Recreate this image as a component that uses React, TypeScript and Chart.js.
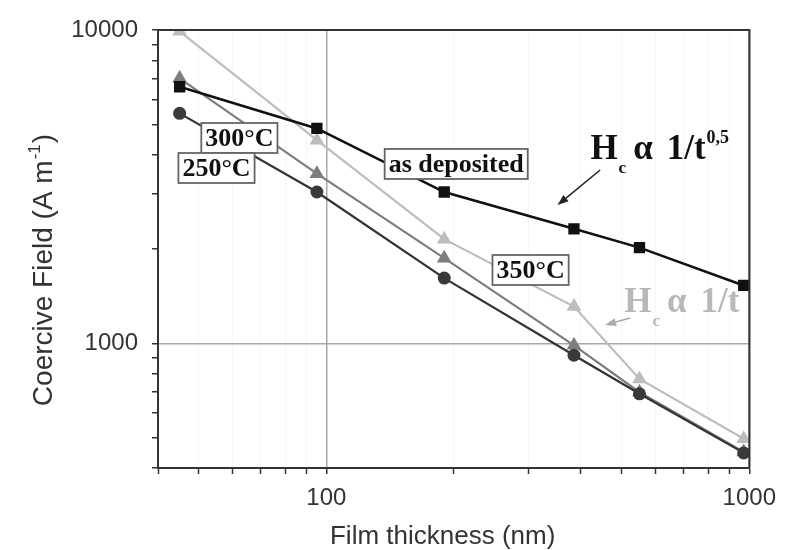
import React, { useEffect, useRef } from "react";
import { Chart, registerables } from "chart.js";

Chart.register(...registerables);

// ---- data ----
const thickness = [45, 95, 190, 385, 550, 970];
const asDeposited = [6590, 4850, 3040, 2320, 2020, 1530];
const t350 = [9900, 4450, 2150, 1310, 770, 496];
const t300 = [7010, 3480, 1870, 985, 698, 450];
const t250 = [5420, 3040, 1615, 916, 690, 447];

const xTicks = [40, 50, 60, 70, 80, 90, 100, 200, 300, 400, 500, 600, 700, 800, 900, 1000];
const yTicks = [400, 500, 600, 700, 800, 900, 1000, 2000, 3000, 4000, 5000, 6000, 7000, 8000, 9000, 10000];
const xMajor = [100, 1000];
const yMajor = [1000, 10000];

// annotation anchors in data coordinates
const boxLabels = [
  { text: "300°C", x: 62.3, y: 4522 },
  { text: "250°C", x: 55.0, y: 3627 },
  { text: "as deposited", x: 202.8, y: 3736 },
  { text: "350°C", x: 304, y: 1714 },
];

const SERIF = '"Liberation Serif", "Times New Roman", serif';
const SANS = '"Liberation Sans", Arial, sans-serif';

function pts(ys: number[]) {
  return thickness.map((x, i) => ({ x, y: ys[i] }));
}

const annotPlugin = {
  id: "annot",
  afterDatasetsDraw(chart: any) {
    const ctx = chart.ctx as CanvasRenderingContext2D;
    const xs = chart.scales.x;
    const ys = chart.scales.y;
    const X = (v: number) => xs.getPixelForValue(v);
    const Y = (v: number) => ys.getPixelForValue(v);
    ctx.save();
    // label boxes
    ctx.font = `bold 26px ${SERIF}`;
    ctx.textAlign = "center";
    ctx.textBaseline = "middle";
    for (const b of boxLabels) {
      const cx = X(b.x);
      const cy = Y(b.y);
      const w = ctx.measureText(b.text).width + 8;
      const h = 30;
      ctx.fillStyle = "#fff";
      ctx.fillRect(cx - w / 2, cy - h / 2, w, h);
      ctx.lineWidth = 1.8;
      ctx.strokeStyle = "#666";
      ctx.strokeRect(cx - w / 2, cy - h / 2, w, h);
      ctx.fillStyle = "#111";
      ctx.fillText(b.text, cx, cy + 1);
    }

    const formula = (x: number, y: number, color: string, sup: string | null) => {
      ctx.fillStyle = color;
      ctx.textAlign = "left";
      ctx.textBaseline = "alphabetic";
      ctx.font = `bold 35px ${SERIF}`;
      ctx.fillText("H", x, y);
      let cx = x + ctx.measureText("H").width + 1;
      ctx.font = `bold 17px ${SERIF}`;
      ctx.fillText("c", cx, y + 14);
      cx += ctx.measureText("c").width + 7;
      ctx.font = `bold 35px ${SERIF}`;
      const parts = ["α", "1/t"];
      ctx.fillText(parts[0], cx, y);
      cx += ctx.measureText(parts[0]).width + 14;
      ctx.fillText(parts[1], cx, y);
      cx += ctx.measureText(parts[1]).width + 1;
      if (sup) {
        ctx.font = `bold 18px ${SERIF}`;
        ctx.fillText(sup, cx, y - 16);
      }
    };
    const arrow = (x1: number, y1: number, x2: number, y2: number, color: string, lw: number) => {
      ctx.strokeStyle = color;
      ctx.fillStyle = color;
      ctx.lineWidth = lw;
      const ang = Math.atan2(y2 - y1, x2 - x1);
      const hl = 11;
      const hw = 4;
      const bx = x2 - Math.cos(ang) * hl;
      const by = y2 - Math.sin(ang) * hl;
      ctx.beginPath();
      ctx.moveTo(x1, y1);
      ctx.lineTo(bx, by);
      ctx.stroke();
      ctx.beginPath();
      ctx.moveTo(x2, y2);
      ctx.lineTo(bx + Math.sin(ang) * hw, by - Math.cos(ang) * hw);
      ctx.lineTo(bx - Math.sin(ang) * hw, by + Math.cos(ang) * hw);
      ctx.closePath();
      ctx.fill();
    };

    formula(X(421), Y(3876), "#111", "0,5");
    arrow(X(444), Y(3573), X(352), Y(2763), "#222", 1.5);
    formula(X(506), Y(1259), "#b8b8b8", null);
    arrow(X(523), Y(1204), X(456), Y(1144), "#aaa", 1.5);

    // frame
    const a = chart.chartArea;
    ctx.strokeStyle = "#333";
    ctx.lineWidth = 2;
    ctx.strokeRect(a.left, a.top, a.right - a.left, a.bottom - a.top);
    ctx.restore();
  },
  afterDraw(chart: any) {
    const ctx = chart.ctx as CanvasRenderingContext2D;
    const a = chart.chartArea;
    ctx.save();
    ctx.fillStyle = "#333";
    // x title
    ctx.font = `26px ${SANS}`;
    ctx.textAlign = "center";
    ctx.textBaseline = "alphabetic";
    ctx.fillText("Film thickness (nm)", (a.left + a.right) / 2 - 11, 544);
    // y title with superscript
    ctx.translate(52, 270);
    ctx.rotate(-Math.PI / 2);
    ctx.font = `28px ${SANS}`;
    const main = "Coercive Field (A m";
    const sup = "-1";
    const close = ")";
    const wm = ctx.measureText(main).width;
    ctx.font = `17px ${SANS}`;
    const ws = ctx.measureText(sup).width;
    ctx.font = `28px ${SANS}`;
    const wc = ctx.measureText(close).width;
    const total = wm + ws + wc + 2;
    let sx = -total / 2;
    ctx.textAlign = "left";
    ctx.fillText(main, sx, 0);
    sx += wm + 1;
    ctx.font = `17px ${SANS}`;
    ctx.fillText(sup, sx, -12);
    sx += ws + 1;
    ctx.font = `28px ${SANS}`;
    ctx.fillText(close, sx, 0);
    ctx.restore();
  },
};

export default function App() {
  const ref = useRef<HTMLCanvasElement | null>(null);
  useEffect(() => {
    document.body.style.margin = "0";
    const canvas = ref.current!;
    const chart = new Chart(canvas, {
      type: "line",
      data: {
        datasets: [
          {
            label: "as deposited",
            data: pts(asDeposited),
            borderColor: "#111",
            backgroundColor: "#111",
            borderWidth: 2.5,
            pointStyle: "rect",
            pointRadius: 8,
            pointBorderWidth: 0,
          },
          {
            label: "250°C",
            data: pts(t250),
            borderColor: "#333",
            backgroundColor: "#3a3a3a",
            borderWidth: 2.2,
            pointStyle: "circle",
            pointRadius: 6.5,
            pointBorderWidth: 0,
          },
          {
            label: "300°C",
            data: pts(t300),
            borderColor: "#7d7d7d",
            backgroundColor: "#7d7d7d",
            borderWidth: 2.2,
            pointStyle: "triangle",
            pointRadius: 8.5,
            pointBorderWidth: 0,
          },
          {
            label: "350°C",
            data: pts(t350),
            borderColor: "#bdbdbd",
            backgroundColor: "#bdbdbd",
            borderWidth: 2.2,
            pointStyle: "triangle",
            pointRadius: 8.5,
            pointBorderWidth: 0,
          },
        ],
      },
      options: {
        responsive: false,
        animation: false,
        layout: { padding: { top: 30, right: 33, left: 0, bottom: 0 } },
        plugins: {
          legend: { display: false },
          tooltip: { enabled: false },
          title: { display: false },
        },
        scales: {
          x: {
            type: "logarithmic",
            min: 40,
            max: 1000,
            afterBuildTicks: (s: any) => {
              s.ticks = xTicks.map((v) => ({ value: v }));
            },
            afterFit: (s: any) => {
              s.height = 82;
            },
            ticks: {
              autoSkip: false,
              maxRotation: 0,
              padding: 10,
              color: "#333",
              font: { family: SANS, size: 24 },
              callback: (v: any) => (xMajor.includes(Number(v)) ? String(v) : ""),
            },
            grid: {
              color: (c: any) =>
                c.tick && xMajor.includes(c.tick.value) ? "#a8a8a8" : "rgba(0,0,0,0.035)",
              lineWidth: (c: any) => (c.tick && xMajor.includes(c.tick.value) ? 1.5 : 1),
              tickColor: "#333",
              tickLength: 6,
              tickWidth: 1.5,
            },
            border: { color: "#333", width: 2 },
          },
          y: {
            type: "logarithmic",
            min: 400,
            max: 10000,
            afterBuildTicks: (s: any) => {
              s.ticks = yTicks.map((v) => ({ value: v }));
            },
            afterFit: (s: any) => {
              s.width = 158;
            },
            ticks: {
              autoSkip: false,
              padding: 14,
              color: "#333",
              font: { family: SANS, size: 24 },
              callback: (v: any) => (yMajor.includes(Number(v)) ? String(v) : ""),
            },
            grid: {
              color: (c: any) =>
                c.tick && yMajor.includes(c.tick.value) ? "#a8a8a8" : "rgba(0,0,0,0)",
              lineWidth: 1.5,
              tickColor: "#333",
              tickLength: 6,
              tickWidth: 1.5,
            },
            border: { color: "#333", width: 2 },
          },
        },
      },
      plugins: [annotPlugin],
    });
    return () => chart.destroy();
  }, []);
  return (
    <div style={{ width: 786, height: 550, background: "#fff" }}>
      <canvas ref={ref} width={786} height={550} style={{ display: "block" }} />
    </div>
  );
}
